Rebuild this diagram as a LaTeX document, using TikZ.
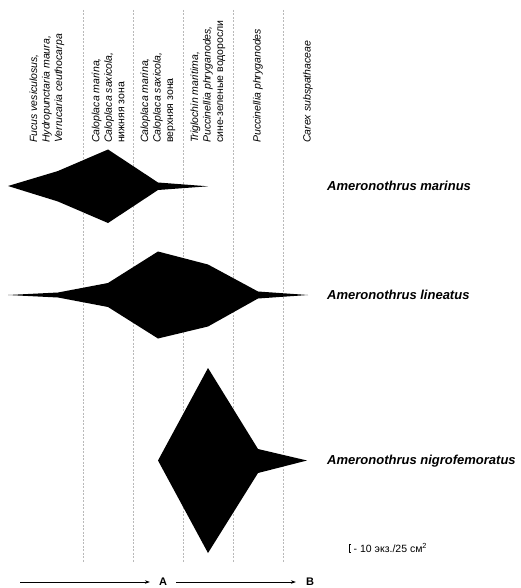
\documentclass[tikz,border=0pt]{standalone}
\usepackage{fontspec}
\setmainfont{Liberation Sans}
\usetikzlibrary{arrows.meta}

\tikzset{
  zoneline/.style={gray!55, line width=0.5pt, dash pattern=on 2pt off 1.5pt},
  zonelabel/.style={rotate=90, anchor=west, align=left, inner sep=0pt,
    font=\fontsize{10.5}{12.5}\selectfont},
  species/.style={anchor=west, inner sep=0pt,
    font=\fontsize{13}{15}\selectfont\bfseries\itshape},
  axisarrow/.style={-{Stealth[length=5pt, width=3.6pt]}, line width=0.6pt},
  axislabel/.style={inner sep=1pt, font=\fontsize{11}{13}\selectfont\bfseries}
}

\begin{document}
\begin{tikzpicture}[x=1pt, y=-1pt, line join=round]
    \useasboundingbox (0,0) rectangle (520,588);

    % границы зон (пунктир)
    \foreach \x in {83,133,183,233,283}
        \draw[zoneline] (\x,10) -- (\x,563);

    % подписи зон
    \node[zonelabel] (z1) at (47,143) {\itshape Fucus vesiculosus,\\ \itshape Hydropunctaria maura,\\ \itshape Verrucaria ceuthocarpa};
    \node[zonelabel] (z2) at (108,143) {\itshape Caloplaca marina,\\ \itshape Caloplaca saxicola,\\ нижняя зона};
    \node[zonelabel] (z3) at (158,143) {\itshape Caloplaca marina,\\ \itshape Caloplaca saxicola,\\ верхняя зона};
    \node[zonelabel] (z4) at (208,143) {\itshape Triglochin maritima,\\ \itshape Puccinellia phryganodes,\\ сине-зеленые водоросли};
    \node[zonelabel] (z5) at (258,143) {\itshape Puccinellia phryganodes};
    \node[zonelabel] (z6) at (308,143) {\itshape Carex subspathaceae};

    % 1. Ameronothrus marinus
    \fill (8,186) -- (58,171) -- (108,149.5) -- (158,182.5) -- (208,186.3)
        -- (158,190) -- (108,223) -- (58,201.5) -- cycle;
    \node[species] (marinus) at (327,186) {Ameronothrus marinus};

    % 2. Ameronothrus lineatus
    \fill (8,295) -- (58,292.5) -- (108,283) -- (158,251.5) -- (208,264.5)
        -- (258,291.5) -- (308,295) -- (258,298.5) -- (208,326.5)
        -- (158,338.5) -- (108,307) -- (58,297.5) -- cycle;
    \node[species] (lineatus) at (327,295) {Ameronothrus lineatus};

    % 3. Ameronothrus nigrofemoratus
    \fill (158,460.5) -- (208,368) -- (258,449) -- (307,460.5)
        -- (258,473) -- (208,553) -- cycle;
    \node[species] (nigro) at (327,461) {Ameronothrus nigrofemoratus};

    % масштаб
    \draw[line width=0.8pt] (351,544) -- (349,544) -- (349,552) -- (351,552);
    \node[anchor=west, inner sep=0pt, font=\fontsize{10.5}{12}\selectfont] (scale)
        at (353.5,548) {- 10 экз./25 см\textsuperscript{2}};

    % градиент A -> B
    \coordinate (start) at (20,582);
    \node[axislabel] (A) at (163,582) {A};
    \node[axislabel] (B) at (310,582) {B};
    \draw[axisarrow, shorten >=8pt] (start) -- (A);
    \draw[axisarrow, shorten <=8pt, shorten >=9pt] (A) -- (B);
\end{tikzpicture}
\end{document}
